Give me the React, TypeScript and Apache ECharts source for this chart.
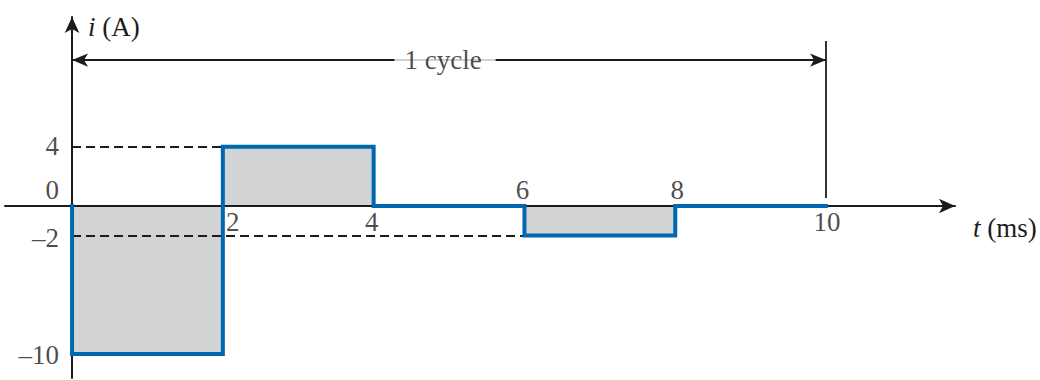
import React, { useEffect, useRef } from "react";
import * as echarts from "echarts";

// Waveform (step) of i(A) versus t(ms)
const timeMs = [0, 0, 2, 2, 4, 4, 6, 6, 8, 8, 10];
const currentA = [0, -10, -10, 4, 4, 0, 0, -2, -2, 0, 0];

// Y tick labels
const yTickValues = [4, 0, -2, -10];
const yTickLabels = ["4", "0", "\u20132", "\u201310"];

// X tick labels
const xTickValues = [2, 4, 6, 8, 10];
const xTickLabels = ["2", "4", "6", "8", "10"];

// Reference guides
const dashLevels = [4, -2];
const dashEnds = [2, 6];
const cycleStart = 0;
const cycleEnd = 10;
const cycleLevel = 9.86;
const cycleMarkTop = 11.15;
const cycleMarkBottom = 0.54;
const cycleText = "1 cycle";

const INK = "#1e1b1c";
const BLUE = "#0067b1";
const GRAY = "#d1d3d4";
const FONT = "'Liberation Serif', 'Times New Roman', serif";
const FS = 27;

export default function App() {
  const ref = useRef<HTMLDivElement>(null);
  useEffect(() => {
    if (!ref.current) return;
    const chart = echarts.init(ref.current, undefined, { renderer: "svg" });
    const wave = timeMs.map((t, i) => [t, currentA[i]]);
    const yLabelOffsets: Record<number, number[]> = {
      4: [0, -1],
      0: [0, -16],
      [-2]: [0, 2],
      [-10]: [0, 1],
    };
    const xLabelOffsets = [
      [10, 16],
      [-2, 16],
      [-2, -16],
      [2, -16],
      [1, 16],
    ];
    const labelStyle = { fontFamily: FONT, fontSize: FS, color: INK };
    chart.setOption({
      animation: false,
      backgroundColor: "#ffffff",
      grid: { left: 5, right: 85, top: 17, bottom: 2, containLabel: false },
      xAxis: {
        type: "value",
        min: -0.889,
        max: 11.71,
        z: 3,
        splitLine: { show: false },
        axisTick: { show: false },
        axisLabel: { show: false },
        axisLine: {
          show: true,
          onZero: true,
          symbol: ["none", "arrow"],
          symbolSize: [11, 16],
          lineStyle: { color: INK, width: 2 },
        },
        name: "{it|t} (ms)",
        nameLocation: "end",
        nameGap: 18,
        nameTextStyle: {
          fontFamily: FONT,
          fontSize: FS,
          color: INK,
          align: "left",
          verticalAlign: "top",
          padding: [8, 0, 0, 0],
          rich: { it: { fontFamily: FONT, fontSize: FS, fontStyle: "italic", color: INK } },
        },
      },
      yAxis: {
        type: "value",
        min: -11.62,
        max: 12.77,
        z: 3,
        splitLine: { show: false },
        axisTick: { show: false },
        axisLabel: { show: false },
        axisLine: {
          show: true,
          onZero: true,
          symbol: ["none", "arrow"],
          symbolSize: [11, 16],
          lineStyle: { color: INK, width: 2 },
        },
        name: "{it|i} (A)",
        nameLocation: "end",
        nameGap: -10,
        nameTextStyle: {
          fontFamily: FONT,
          fontSize: FS,
          color: INK,
          align: "left",
          verticalAlign: "middle",
          padding: [0, 0, 0, 16],
          rich: { it: { fontFamily: FONT, fontSize: FS, fontStyle: "italic", color: INK } },
        },
      },
      series: [
        {
          type: "line",
          z: 1,
          data: wave,
          symbol: "none",
          lineStyle: { width: 0 },
          areaStyle: { color: GRAY, opacity: 1, origin: 0 },
          silent: true,
        },
        {
          type: "line",
          z: 5,
          data: wave,
          symbol: "none",
          lineStyle: { color: BLUE, width: 4, join: "miter", cap: "square" },
          silent: true,
          markLine: {
            silent: true,
            symbol: "none",
            label: { show: false },
            data: [
              ...dashLevels.map((lv, i) => [
                {
                  coord: [0, lv],
                  lineStyle: { color: INK, width: 2, type: [9, 5] },
                },
                { coord: [dashEnds[i], lv] },
              ]),
              [
                {
                  coord: [cycleEnd, cycleMarkTop],
                  lineStyle: { color: INK, width: 1.8, type: "solid" },
                },
                { coord: [cycleEnd, cycleMarkBottom] },
              ],
              [
                {
                  coord: [cycleStart, cycleLevel],
                  symbol: "arrow",
                  symbolSize: [10, 16],
                  lineStyle: { color: INK, width: 2, type: "solid" },
                },
                { coord: [cycleEnd, cycleLevel], symbol: "arrow", symbolSize: [10, 16] },
              ],
            ],
          },
        },
        {
          type: "scatter",
          z: 10,
          symbolSize: 0,
          silent: true,
          data: [
            ...yTickValues.map((v, i) => ({
              value: [0, v],
              label: {
                show: true,
                position: "left",
                distance: 13,
                formatter: yTickLabels[i],
                offset: yLabelOffsets[v],
                ...labelStyle,
              },
            })),
            ...xTickValues.map((t, i) => ({
              value: [t, 0],
              label: {
                show: true,
                position: "inside",
                formatter: xTickLabels[i],
                offset: xLabelOffsets[i],
                ...labelStyle,
              },
            })),
            {
              value: [(cycleStart + cycleEnd) / 2, cycleLevel],
              label: {
                show: true,
                position: "inside",
                formatter: cycleText,
                offset: [-4, 0],
                backgroundColor: "#ffffff",
                padding: [0, 14, 0, 10],
                ...labelStyle,
              },
            },
          ],
        },
      ],
    });
    return () => chart.dispose();
  }, []);
  return (
    <div
      ref={ref}
      style={{ position: "absolute", left: 0, top: 0, width: 1040, height: 380, background: "#fff" }}
    />
  );
}
